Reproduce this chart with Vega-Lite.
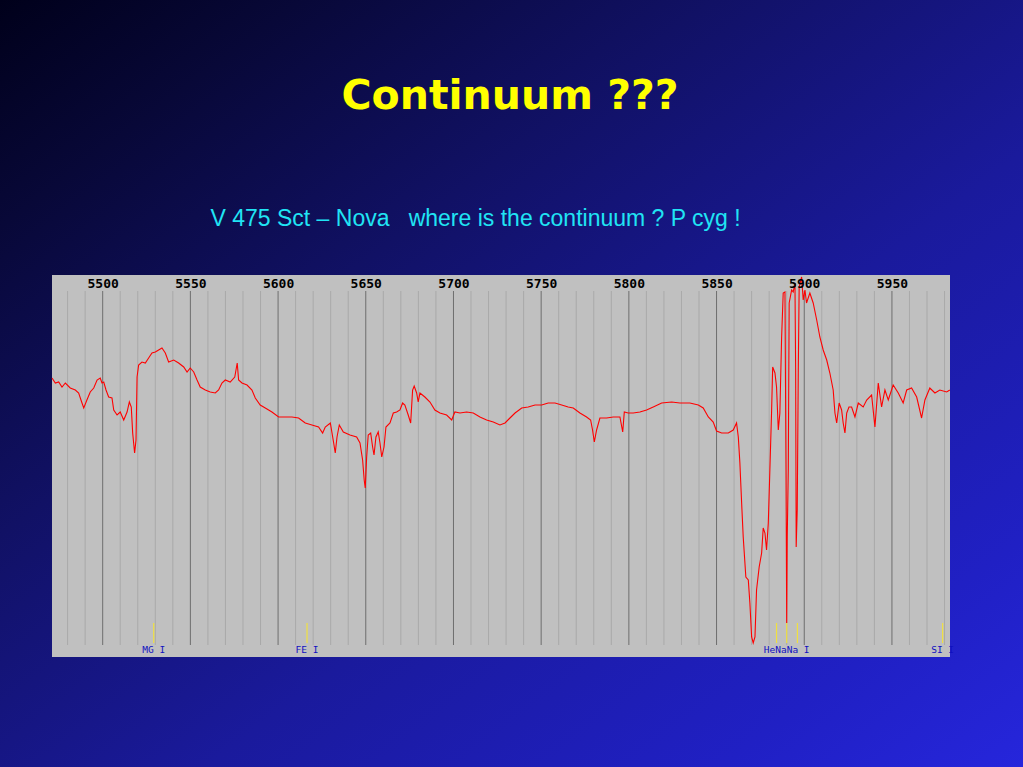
{
  "$schema": "https://vega.github.io/schema/vega-lite/v6.json",
  "width": 898,
  "height": 382,
  "autosize": {"type": "none"},
  "padding": {"left": 52, "top": 275, "right": 73, "bottom": 110},
  "background": "#10105a",
  "title": {
    "text": "Continuum ???",
    "anchor": "middle",
    "frame": "group",
    "dx": 9,
    "offset": -121,
    "font": "DejaVu Sans",
    "fontSize": 41,
    "fontWeight": "bold",
    "color": "#ffff00"
  },
  "config": {
    "view": {"stroke": null, "fill": null}
  },
  "datasets": {
    "spectrum": [
      {"w":5471.1,"f":2.79},{"w":5473.0,"f":2.74},{"w":5474.9,"f":2.75},{"w":5476.8,"f":2.70},{"w":5478.7,"f":2.74},{"w":5481.5,"f":2.69},{"w":5484.4,"f":2.67},{"w":5486.3,"f":2.64},{"w":5488.2,"f":2.54},{"w":5489.2,"f":2.49},{"w":5491.0,"f":2.57},{"w":5492.9,"f":2.65},{"w":5494.9,"f":2.69},{"w":5496.8,"f":2.77},{"w":5498.6,"f":2.79},{"w":5499.6,"f":2.74},{"w":5500.6,"f":2.75},{"w":5501.9,"f":2.67},{"w":5503.4,"f":2.60},{"w":5505.3,"f":2.59},{"w":5506.3,"f":2.47},{"w":5508.2,"f":2.42},{"w":5510.0,"f":2.45},{"w":5512.0,"f":2.37},{"w":5513.9,"f":2.45},{"w":5515.2,"f":2.55},{"w":5516.3,"f":2.50},{"w":5517.1,"f":2.24},{"w":5518.2,"f":2.04},{"w":5519.0,"f":2.17},{"w":5519.6,"f":2.80},{"w":5520.5,"f":2.92},{"w":5522.4,"f":2.95},{"w":5524.3,"f":2.94},{"w":5526.2,"f":2.99},{"w":5528.1,"f":3.04},{"w":5530.0,"f":3.05},{"w":5531.9,"f":3.07},{"w":5533.8,"f":3.09},{"w":5535.7,"f":3.04},{"w":5537.6,"f":2.95},{"w":5540.5,"f":2.97},{"w":5543.3,"f":2.94},{"w":5546.2,"f":2.90},{"w":5548.1,"f":2.85},{"w":5549.9,"f":2.89},{"w":5551.9,"f":2.85},{"w":5553.8,"f":2.77},{"w":5555.6,"f":2.70},{"w":5558.5,"f":2.67},{"w":5561.3,"f":2.65},{"w":5564.2,"f":2.64},{"w":5566.1,"f":2.67},{"w":5568.0,"f":2.74},{"w":5569.9,"f":2.77},{"w":5572.7,"f":2.75},{"w":5575.3,"f":2.80},{"w":5576.7,"f":2.94},{"w":5577.5,"f":2.77},{"w":5579.4,"f":2.74},{"w":5582.3,"f":2.72},{"w":5585.1,"f":2.67},{"w":5587.0,"f":2.59},{"w":5589.8,"f":2.52},{"w":5592.7,"f":2.49},{"w":5596.5,"f":2.45},{"w":5600.3,"f":2.40},{"w":5604.1,"f":2.40},{"w":5607.9,"f":2.40},{"w":5611.7,"f":2.39},{"w":5615.5,"f":2.34},{"w":5619.3,"f":2.32},{"w":5623.1,"f":2.30},{"w":5625.4,"f":2.24},{"w":5626.9,"f":2.30},{"w":5629.8,"f":2.34},{"w":5631.7,"f":2.14},{"w":5632.6,"f":2.04},{"w":5633.6,"f":2.20},{"w":5634.9,"f":2.32},{"w":5637.2,"f":2.25},{"w":5641.0,"f":2.22},{"w":5644.8,"f":2.20},{"w":5646.7,"f":2.14},{"w":5648.2,"f":1.97},{"w":5649.1,"f":1.77},{"w":5649.7,"f":1.69},{"w":5650.5,"f":2.00},{"w":5651.4,"f":2.22},{"w":5652.8,"f":2.24},{"w":5653.9,"f":2.10},{"w":5654.7,"f":2.02},{"w":5655.8,"f":2.20},{"w":5657.1,"f":2.25},{"w":5658.1,"f":2.14},{"w":5659.1,"f":2.00},{"w":5660.4,"f":2.10},{"w":5661.5,"f":2.30},{"w":5663.8,"f":2.34},{"w":5665.7,"f":2.44},{"w":5667.6,"f":2.45},{"w":5669.5,"f":2.47},{"w":5671.0,"f":2.54},{"w":5672.3,"f":2.52},{"w":5674.2,"f":2.42},{"w":5675.6,"f":2.34},{"w":5676.7,"f":2.67},{"w":5677.6,"f":2.71},{"w":5679.0,"f":2.64},{"w":5679.9,"f":2.55},{"w":5680.9,"f":2.64},{"w":5683.7,"f":2.60},{"w":5686.6,"f":2.55},{"w":5689.4,"f":2.47},{"w":5692.3,"f":2.44},{"w":5696.1,"f":2.42},{"w":5699.0,"f":2.37},{"w":5700.8,"f":2.45},{"w":5703.7,"f":2.44},{"w":5707.5,"f":2.45},{"w":5711.3,"f":2.44},{"w":5715.1,"f":2.40},{"w":5718.9,"f":2.37},{"w":5722.7,"f":2.35},{"w":5726.5,"f":2.32},{"w":5729.4,"f":2.34},{"w":5732.2,"f":2.39},{"w":5735.1,"f":2.44},{"w":5738.9,"f":2.49},{"w":5742.6,"f":2.50},{"w":5746.5,"f":2.52},{"w":5750.3,"f":2.52},{"w":5754.0,"f":2.54},{"w":5757.9,"f":2.54},{"w":5761.7,"f":2.52},{"w":5765.4,"f":2.50},{"w":5768.3,"f":2.49},{"w":5772.1,"f":2.44},{"w":5775.9,"f":2.40},{"w":5778.2,"f":2.37},{"w":5779.3,"f":2.27},{"w":5780.3,"f":2.15},{"w":5781.6,"f":2.27},{"w":5783.5,"f":2.39},{"w":5787.3,"f":2.39},{"w":5791.1,"f":2.40},{"w":5794.9,"f":2.40},{"w":5796.5,"f":2.25},{"w":5797.4,"f":2.45},{"w":5799.6,"f":2.44},{"w":5802.5,"f":2.44},{"w":5806.3,"f":2.45},{"w":5810.1,"f":2.47},{"w":5813.9,"f":2.50},{"w":5818.7,"f":2.54},{"w":5824.4,"f":2.55},{"w":5829.1,"f":2.54},{"w":5834.8,"f":2.54},{"w":5839.6,"f":2.52},{"w":5842.4,"f":2.49},{"w":5845.3,"f":2.40},{"w":5848.1,"f":2.35},{"w":5850.0,"f":2.26},{"w":5852.9,"f":2.24},{"w":5856.7,"f":2.24},{"w":5859.5,"f":2.27},{"w":5861.4,"f":2.34},{"w":5862.4,"f":2.20},{"w":5863.3,"f":1.94},{"w":5864.3,"f":1.54},{"w":5865.2,"f":1.20},{"w":5866.7,"f":0.80},{"w":5868.1,"f":0.77},{"w":5869.0,"f":0.54},{"w":5870.0,"f":0.20},{"w":5870.9,"f":0.14},{"w":5871.9,"f":0.20},{"w":5872.8,"f":0.67},{"w":5874.3,"f":0.90},{"w":5875.7,"f":1.04},{"w":5876.6,"f":1.29},{"w":5877.6,"f":1.24},{"w":5878.5,"f":1.07},{"w":5879.5,"f":1.34},{"w":5880.4,"f":1.87},{"w":5881.4,"f":2.47},{"w":5882.0,"f":2.90},{"w":5883.3,"f":2.84},{"w":5884.2,"f":2.70},{"w":5885.2,"f":2.27},{"w":5886.1,"f":2.44},{"w":5887.1,"f":3.20},{"w":5888.0,"f":3.64},{"w":5889.0,"f":3.65},{"w":5889.6,"f":1.87},{"w":5890.0,"f":0.34},{"w":5890.3,"f":1.20},{"w":5890.9,"f":1.87},{"w":5891.4,"f":3.54},{"w":5892.8,"f":3.67},{"w":5893.7,"f":3.65},{"w":5894.7,"f":3.74},{"w":5895.1,"f":2.87},{"w":5895.4,"f":1.10},{"w":5896.0,"f":1.47},{"w":5896.6,"f":2.87},{"w":5897.1,"f":3.70},{"w":5898.5,"f":3.80},{"w":5899.4,"f":3.57},{"w":5900.4,"f":3.67},{"w":5901.3,"f":3.54},{"w":5903.2,"f":3.64},{"w":5905.1,"f":3.54},{"w":5907.1,"f":3.37},{"w":5908.9,"f":3.20},{"w":5910.8,"f":3.07},{"w":5912.8,"f":2.97},{"w":5914.6,"f":2.84},{"w":5916.5,"f":2.67},{"w":5917.5,"f":2.44},{"w":5918.5,"f":2.34},{"w":5919.9,"f":2.54},{"w":5921.3,"f":2.47},{"w":5922.2,"f":2.34},{"w":5923.2,"f":2.24},{"w":5924.2,"f":2.44},{"w":5925.5,"f":2.50},{"w":5927.0,"f":2.50},{"w":5928.9,"f":2.40},{"w":5930.8,"f":2.54},{"w":5933.6,"f":2.50},{"w":5935.6,"f":2.57},{"w":5938.4,"f":2.62},{"w":5940.3,"f":2.30},{"w":5942.2,"f":2.74},{"w":5944.1,"f":2.50},{"w":5946.0,"f":2.67},{"w":5947.9,"f":2.57},{"w":5950.7,"f":2.72},{"w":5953.6,"f":2.64},{"w":5956.4,"f":2.54},{"w":5958.4,"f":2.67},{"w":5961.2,"f":2.69},{"w":5964.1,"f":2.60},{"w":5966.9,"f":2.39},{"w":5968.8,"f":2.57},{"w":5971.6,"f":2.69},{"w":5974.5,"f":2.64},{"w":5977.3,"f":2.67},{"w":5981.2,"f":2.65},{"w":5983.0,"f":2.67}
    ],
    "grid": [
      {"w":5480,"kind":"minor"},{"w":5490,"kind":"minor"},{"w":5500,"kind":"major"},{"w":5510,"kind":"minor"},{"w":5520,"kind":"minor"},{"w":5530,"kind":"minor"},{"w":5540,"kind":"minor"},{"w":5550,"kind":"major"},{"w":5560,"kind":"minor"},{"w":5570,"kind":"minor"},{"w":5580,"kind":"minor"},{"w":5590,"kind":"minor"},{"w":5600,"kind":"major"},{"w":5610,"kind":"minor"},{"w":5620,"kind":"minor"},{"w":5630,"kind":"minor"},{"w":5640,"kind":"minor"},{"w":5650,"kind":"major"},{"w":5660,"kind":"minor"},{"w":5670,"kind":"minor"},{"w":5680,"kind":"minor"},{"w":5690,"kind":"minor"},{"w":5700,"kind":"major"},{"w":5710,"kind":"minor"},{"w":5720,"kind":"minor"},{"w":5730,"kind":"minor"},{"w":5740,"kind":"minor"},{"w":5750,"kind":"major"},{"w":5760,"kind":"minor"},{"w":5770,"kind":"minor"},{"w":5780,"kind":"minor"},{"w":5790,"kind":"minor"},{"w":5800,"kind":"major"},{"w":5810,"kind":"minor"},{"w":5820,"kind":"minor"},{"w":5830,"kind":"minor"},{"w":5840,"kind":"minor"},{"w":5850,"kind":"major"},{"w":5860,"kind":"minor"},{"w":5870,"kind":"minor"},{"w":5880,"kind":"minor"},{"w":5890,"kind":"minor"},{"w":5900,"kind":"major"},{"w":5910,"kind":"minor"},{"w":5920,"kind":"minor"},{"w":5930,"kind":"minor"},{"w":5940,"kind":"minor"},{"w":5950,"kind":"major"},{"w":5960,"kind":"minor"},{"w":5970,"kind":"minor"},{"w":5980,"kind":"minor"}
    ],
    "lines": [
      {"w":5529.1,"label":"MG I"},
      {"w":5616.5,"label":"FE I"},
      {"w":5884.2,"label":""},
      {"w":5890.0,"label":"HeNaNa I"},
      {"w":5896.1,"label":""},
      {"w":5978.9,"label":"SI I"}
    ]
  },
  "layer": [
    {
      "data": {"values": [{}]},
      "mark": {
        "type": "rect",
        "fill": {
          "gradient": "linear",
          "x1": 0, "y1": 0, "x2": 1, "y2": 1,
          "stops": [
            {"offset": 0, "color": "#00001a"},
            {"offset": 0.15, "color": "#080838"},
            {"offset": 0.35, "color": "#111165"},
            {"offset": 0.6, "color": "#1a1a9c"},
            {"offset": 0.85, "color": "#2020c4"},
            {"offset": 1, "color": "#2626dc"}
          ]
        }
      },
      "encoding": {
        "x": {"datum": 5440, "type": "quantitative", "scale": {"domain": [5471.1, 5983.1], "nice": false, "zero": false}},
        "x2": {"datum": 6026},
        "y": {"datum": 6.6, "type": "quantitative", "scale": {"domain": [0, 3.82], "nice": false, "zero": false}, "axis": null},
        "y2": {"datum": -1.12}
      }
    },
    {
      "data": {"values": [{}]},
      "mark": {"type": "rect", "fill": "#c0c0c0"},
      "encoding": {
        "x": {"datum": 5471.1, "type": "quantitative"},
        "x2": {"datum": 5983.1},
        "y": {"datum": 3.82, "type": "quantitative", "axis": null},
        "y2": {"datum": 0}
      }
    },
    {
      "data": {"name": "grid"},
      "mark": {"type": "rule", "strokeWidth": 1},
      "encoding": {
        "x": {"field": "w", "type": "quantitative"},
        "y": {"datum": 3.66, "type": "quantitative", "axis": null},
        "y2": {"datum": 0.12},
        "color": {"field": "kind", "type": "nominal", "scale": {"domain": ["major", "minor"], "range": ["#6e6e6e", "#a9a9a9"]}, "legend": null}
      }
    },
    {
      "data": {"name": "lines"},
      "mark": {"type": "rule", "strokeWidth": 1.2, "color": "#f0e040"},
      "encoding": {
        "x": {"field": "w", "type": "quantitative"},
        "y": {"datum": 0.34, "type": "quantitative", "axis": null},
        "y2": {"datum": 0.14}
      }
    },
    {
      "data": {"name": "spectrum"},
      "mark": {"type": "line", "color": "#ff0000", "strokeWidth": 1.1},
      "encoding": {
        "x": {
          "field": "w",
          "type": "quantitative",
          "axis": {
            "orient": "top",
            "values": [5500, 5550, 5600, 5650, 5700, 5750, 5800, 5850, 5900, 5950],
            "format": "d",
            "zindex": 1,
            "domain": false,
            "ticks": false,
            "tickSize": 0,
            "grid": false,
            "labelPadding": -8,
            "labelBaseline": "middle",
            "labelFont": "DejaVu Sans Mono",
            "labelFontWeight": "bold",
            "labelFontSize": 13,
            "labelColor": "#000000",
            "labelFlush": false,
            "title": "V 475 Sct – Nova\u00a0\u00a0\u00a0where is the continuum ? P cyg !",
            "titleFont": "Liberation Sans",
            "titleFontSize": 23,
            "titleFontWeight": "normal",
            "titleColor": "#20e4f4",
            "titleX": 158,
            "titleY": -50,
            "titleAlign": "left",
            "titleBaseline": "alphabetic",
            "titleAngle": 0
          }
        },
        "y": {"field": "f", "type": "quantitative", "axis": null}
      }
    },
    {
      "data": {"name": "lines"},
      "mark": {"type": "text", "font": "DejaVu Sans Mono", "fontSize": 9.5, "color": "#1010c0", "baseline": "middle", "align": "center"},
      "encoding": {
        "x": {"field": "w", "type": "quantitative"},
        "y": {"datum": 0.07, "type": "quantitative", "axis": null},
        "text": {"field": "label"}
      }
    }
  ]
}
